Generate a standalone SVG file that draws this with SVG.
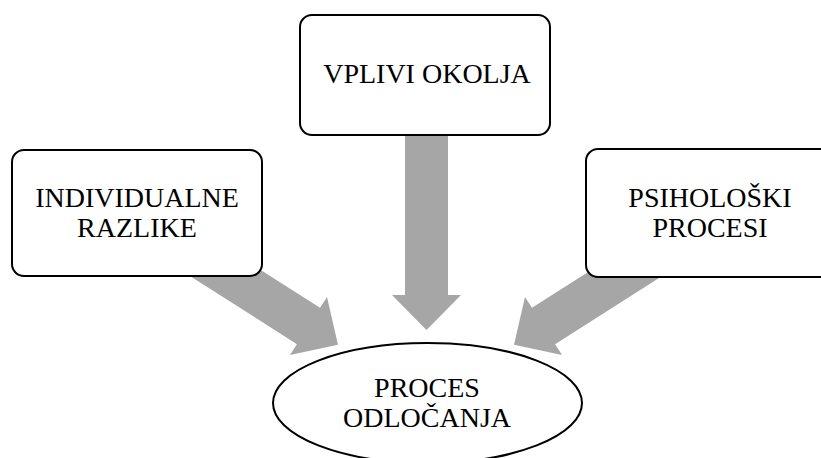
<svg xmlns="http://www.w3.org/2000/svg" width="821" height="458" viewBox="0 0 821 458">
  <style>
    .box { fill: #ffffff; stroke: #000000; stroke-width: 2; }
    .arrow { fill: #a6a6a6; stroke: none; }
    .lbl { font-family: "Liberation Serif", "Times New Roman", serif; font-size: 28px; fill: #000000; text-anchor: middle; }
  </style>
  <defs>
    <polygon id="bigArrow" class="arrow" points="0,-21.5 160,-21.5 160,-34.5 195,0 160,34.5 160,21.5 0,21.5"/>
  </defs>
  <rect width="821" height="458" fill="#ffffff"/>
  <g id="connectors">
    <use href="#bigArrow" transform="translate(426.5,330) rotate(90) translate(-195,0)"/>
    <use href="#bigArrow" transform="translate(338,344.8) rotate(32.5) translate(-195,0)"/>
    <use href="#bigArrow" transform="translate(514,344.8) rotate(147.5) translate(-195,0)"/>
  </g>
  <g id="node-individualne">
    <rect class="box" x="12" y="150" width="250" height="126" rx="12"/>
    <text class="lbl" x="137" y="207">INDIVIDUALNE</text>
    <text class="lbl" x="137" y="237">RAZLIKE</text>
  </g>
  <g id="node-vplivi">
    <rect class="box" x="300" y="15" width="250" height="120" rx="12"/>
    <text class="lbl" x="427" y="83">VPLIVI OKOLJA</text>
  </g>
  <g id="node-psiholoski">
    <rect class="box" x="586" y="149" width="250" height="128" rx="12"/>
    <text class="lbl" x="710" y="207">PSIHOLOŠKI</text>
    <text class="lbl" x="710" y="237">PROCESI</text>
  </g>
  <g id="node-proces">
    <ellipse class="box" cx="427.5" cy="403" rx="154.5" ry="60"/>
    <text class="lbl" x="427" y="397">PROCES</text>
    <text class="lbl" x="427" y="427">ODLOČANJA</text>
  </g>
</svg>
